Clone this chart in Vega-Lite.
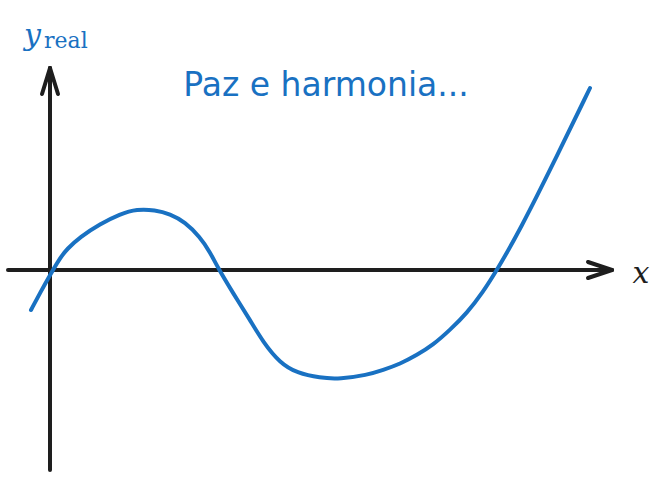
{
  "$schema": "https://vega.github.io/schema/vega-lite/v6.json",
  "width": 664,
  "height": 480,
  "autosize": {"type": "fit", "contains": "padding"},
  "padding": 0,
  "background": "white",
  "config": {"view": {"stroke": null}},
  "datasets": {
    "axes": [
      {"seg": "xaxis", "x": -0.42, "y": 0, "x2": 5.62, "y2": 0},
      {"seg": "xarrow1", "x": 5.38, "y": 0.08, "x2": 5.62, "y2": 0},
      {"seg": "xarrow2", "x": 5.38, "y": -0.08, "x2": 5.62, "y2": 0},
      {"seg": "yaxis", "x": 0, "y": -2.0, "x2": 0, "y2": 2.02},
      {"seg": "yarrow1", "x": -0.08, "y": 1.76, "x2": 0, "y2": 2.02},
      {"seg": "yarrow2", "x": 0.08, "y": 1.76, "x2": 0, "y2": 2.02}
    ],
    "curve": [
      {"x": -0.19, "y": -0.40},
      {"x": -0.10, "y": -0.23},
      {"x": 0.0, "y": -0.05},
      {"x": 0.10, "y": 0.12},
      {"x": 0.17, "y": 0.21},
      {"x": 0.30, "y": 0.33},
      {"x": 0.50, "y": 0.46},
      {"x": 0.70, "y": 0.56},
      {"x": 0.87, "y": 0.61},
      {"x": 1.05, "y": 0.60},
      {"x": 1.20, "y": 0.56},
      {"x": 1.35, "y": 0.48},
      {"x": 1.50, "y": 0.33},
      {"x": 1.60, "y": 0.18},
      {"x": 1.68, "y": 0.02},
      {"x": 1.83, "y": -0.23},
      {"x": 2.00, "y": -0.50},
      {"x": 2.13, "y": -0.72},
      {"x": 2.30, "y": -0.93},
      {"x": 2.47, "y": -1.03},
      {"x": 2.70, "y": -1.08},
      {"x": 2.90, "y": -1.09},
      {"x": 3.17, "y": -1.05},
      {"x": 3.33, "y": -1.00},
      {"x": 3.50, "y": -0.94},
      {"x": 3.67, "y": -0.85},
      {"x": 3.83, "y": -0.75},
      {"x": 4.00, "y": -0.60},
      {"x": 4.17, "y": -0.43},
      {"x": 4.33, "y": -0.22},
      {"x": 4.47, "y": 0.0},
      {"x": 4.70, "y": 0.40},
      {"x": 5.05, "y": 1.10},
      {"x": 5.40, "y": 1.82}
    ]
  },
  "layer": [
    {
      "data": {"name": "axes"},
      "mark": {"type": "rule", "color": "#1e1e1e", "strokeWidth": 4, "strokeCap": "round"},
      "encoding": {
        "x": {"field": "x", "type": "quantitative", "scale": {"domain": [-0.5, 6.14], "nice": false, "zero": false}, "axis": null},
        "y": {"field": "y", "type": "quantitative", "scale": {"domain": [-2.1, 2.7], "nice": false, "zero": false}, "axis": null},
        "x2": {"field": "x2"},
        "y2": {"field": "y2"}
      }
    },
    {
      "data": {"name": "curve"},
      "mark": {"type": "line", "color": "#1971c2", "strokeWidth": 4, "strokeCap": "round", "interpolate": "basis"},
      "encoding": {
        "x": {"field": "x", "type": "quantitative"},
        "y": {"field": "y", "type": "quantitative"}
      }
    },
    {
      "data": {"values": [{"x": 2.76, "y": 1.74, "label": "Paz e harmonia..."}]},
      "mark": {"type": "text", "color": "#1971c2", "font": "DejaVu Sans", "fontSize": 33, "baseline": "alphabetic", "align": "center"},
      "encoding": {
        "x": {"field": "x", "type": "quantitative"},
        "y": {"field": "y", "type": "quantitative"},
        "text": {"field": "label"}
      }
    },
    {
      "data": {"values": [{"x": -0.26, "y": 2.25, "label": "y"}]},
      "mark": {"type": "text", "color": "#1971c2", "font": "DejaVu Serif", "fontStyle": "italic", "fontSize": 30, "baseline": "alphabetic", "align": "left"},
      "encoding": {
        "x": {"field": "x", "type": "quantitative"},
        "y": {"field": "y", "type": "quantitative"},
        "text": {"field": "label"}
      }
    },
    {
      "data": {"values": [{"x": -0.06, "y": 2.22, "label": "real"}]},
      "mark": {"type": "text", "color": "#1971c2", "font": "DejaVu Serif", "fontSize": 22, "baseline": "alphabetic", "align": "left"},
      "encoding": {
        "x": {"field": "x", "type": "quantitative"},
        "y": {"field": "y", "type": "quantitative"},
        "text": {"field": "label"}
      }
    },
    {
      "data": {"values": [{"x": 5.91, "y": -0.13, "label": "x"}]},
      "mark": {"type": "text", "color": "#1e1e1e", "font": "DejaVu Serif", "fontStyle": "italic", "fontSize": 30, "baseline": "alphabetic", "align": "center"},
      "encoding": {
        "x": {"field": "x", "type": "quantitative"},
        "y": {"field": "y", "type": "quantitative"},
        "text": {"field": "label"}
      }
    }
  ]
}
